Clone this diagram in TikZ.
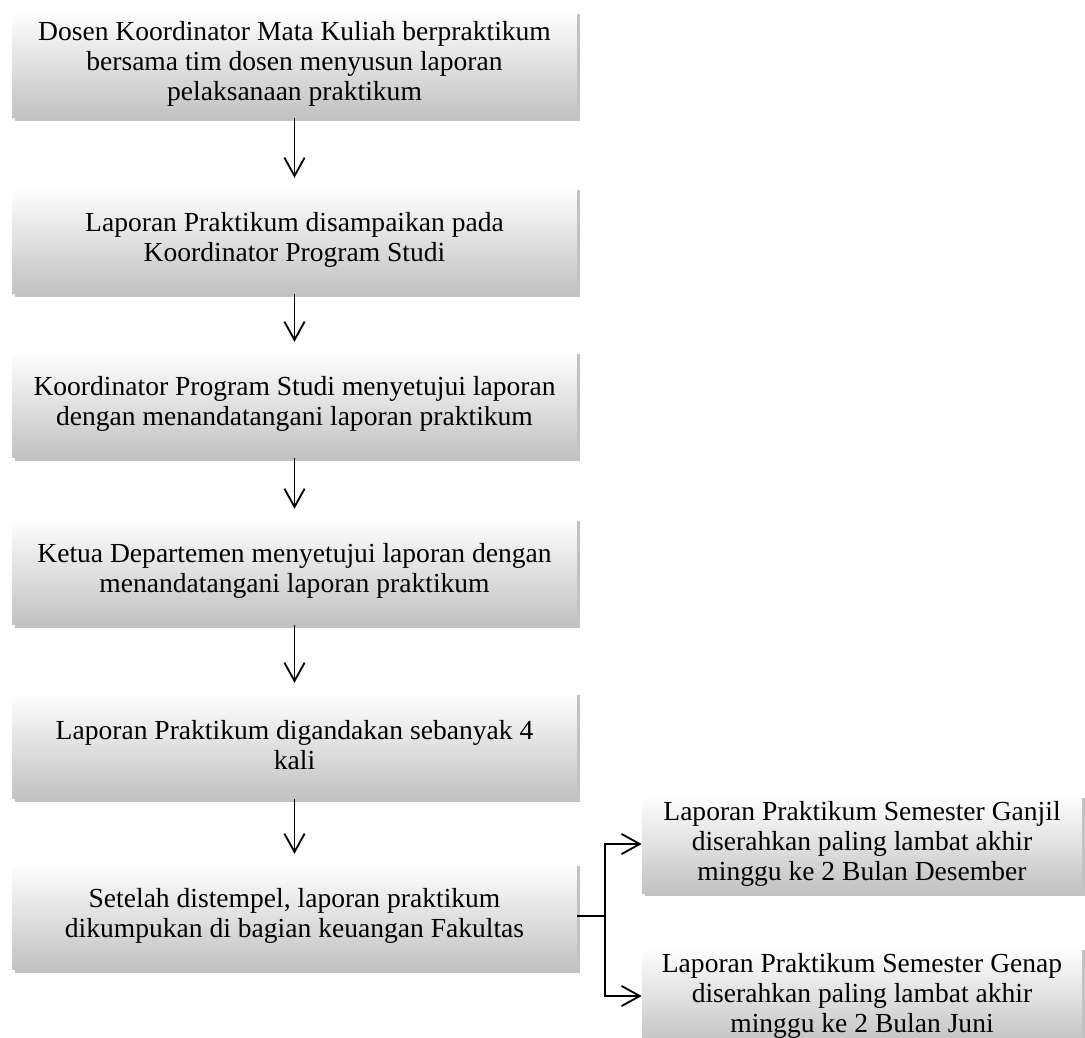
\documentclass[tikz,border=0pt]{standalone}
\usepackage{fontspec}
\setmainfont{Liberation Serif}
\usetikzlibrary{arrows.meta,shadows}

\tikzset{
  stepbox/.style={shade, top color=white, bottom color=black!24, align=center,
    inner sep=0pt, minimum width=8.64cm, minimum height=1.63cm,
    font=\fontsize{12}{13.2}\selectfont,
    drop shadow={shadow xshift=0.05cm, shadow yshift=-0.05cm, opacity=0.4, fill=black!60}},
  sidebox/.style={stepbox, minimum width=6.73cm, minimum height=1.5cm},
  flow/.style={line width=0.8pt, -{Straight Barb[length=0.28cm, width=0.31cm, line width=0.8pt]}},
}

\begin{document}
\begin{tikzpicture}[x=0.0153cm, y=-0.0153cm]
\useasboundingbox (0,0) rectangle (1085,1037);

\node[stepbox] (b1) at (294.5,64) {Dosen Koordinator Mata Kuliah berpraktikum\\bersama tim dosen menyusun laporan\\pelaksanaan praktikum};
\node[stepbox] (b2) at (294.5,240) {Laporan Praktikum disampaikan pada\\Koordinator Program Studi};
\node[stepbox] (b3) at (294.5,404) {Koordinator Program Studi menyetujui laporan\\dengan menandatangani laporan praktikum};
\node[stepbox] (b4) at (294.5,571) {Ketua Departemen menyetujui laporan dengan\\menandatangani laporan praktikum};
\node[stepbox] (b5) at (294.5,745) {Laporan Praktikum digandakan sebanyak 4\\kali};
\node[stepbox] (b6) at (294.5,916) {Setelah distempel, laporan praktikum\\dikumpukan di bagian keuangan Fakultas};

\node[sidebox] (s1) at (862,844) {Laporan Praktikum Semester Ganjil\\diserahkan paling lambat akhir\\minggu ke 2 Bulan Desember};
\node[sidebox] (s2) at (862,996) {Laporan Praktikum Semester Genap\\diserahkan paling lambat akhir\\minggu ke 2 Bulan Juni};

\foreach \a/\b in {b1/b2,b2/b3,b3/b4,b4/b5,b5/b6}
  \draw[flow, shorten >=0.13cm] (\a.south) -- (\b.north);

\draw[line width=0.8pt] (b6.east) -- ++(28,0) coordinate (fork);
\draw[flow] (fork) |- (s1.west);
\draw[flow] (fork) |- (s2.west);
\end{tikzpicture}
\end{document}
